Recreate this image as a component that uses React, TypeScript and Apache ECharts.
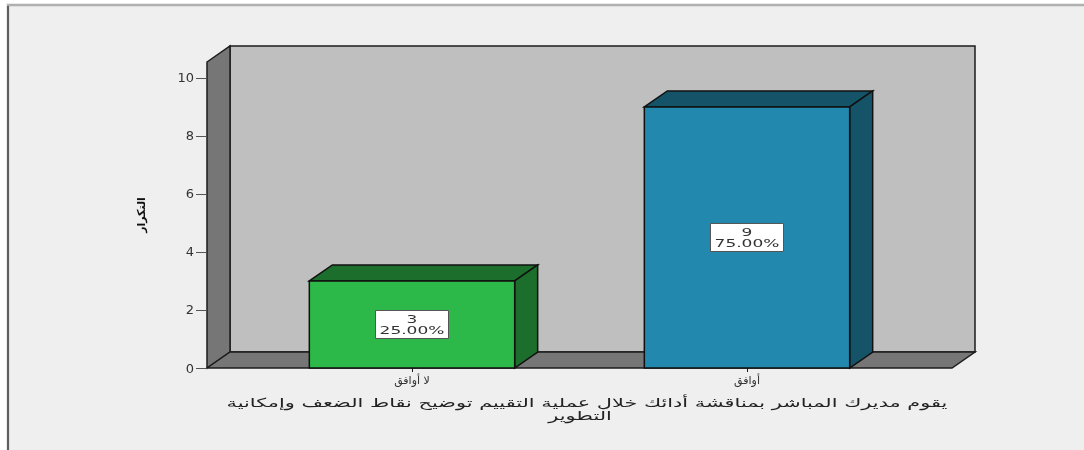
import React, { useEffect, useRef } from "react";
import * as echarts from "echarts";

const categories = ["لا أوافق", "أوافق"];
const counts = [3, 9];
const percents = ["25.00%", "75.00%"];
const frontColors = ["#2db84a", "#2288ad"];
const sideColors = ["#1c6e2c", "#155468"];
const yTicks = [0, 2, 4, 6, 8, 10];
const yAxisTitle = "التكرار";
const xAxisTitleLine1 = "يقوم مديرك المباشر بمناقشة أدائك خلال عملية التقييم توضيح نقاط الضعف وإمكانية";
const xAxisTitleLine2 = "التطوير";

const FONT = "'DejaVu Sans', sans-serif";
const INK = "#1c1c1c";
const DX = 23;
const DY = 16;
const L = 207;
const R = 952;
const TOP = 62;
const BOT = 368;
const Y_MAX = 10.55;

const line = { stroke: INK, lineWidth: 1.5 };
const titleStyle = { fill: "#222222", font: `12.5px ${FONT}`, align: "center", verticalAlign: "middle" };

export default function App() {
  const ref = useRef<HTMLDivElement>(null);
  useEffect(() => {
    const chart = echarts.init(ref.current!, null, { renderer: "svg" });
    chart.setOption({
      animation: false,
      backgroundColor: "#ffffff",
      graphic: [
        { type: "rect", z: -10, shape: { x: 8, y: 5, width: 1090, height: 460 }, style: { fill: "#efefef", stroke: "#b0b0b0", lineWidth: 2.5 } },
        { type: "line", z: -9, shape: { x1: 8, y1: 6, x2: 8, y2: 450 }, style: { stroke: "#444444", lineWidth: 1.5 } },
        { type: "polygon", z: -8, shape: { points: [[L + DX, TOP - DY], [R + DX, TOP - DY], [R + DX, BOT - DY], [L + DX, BOT - DY]] }, style: { fill: "#bfbfbf", ...line } },
        { type: "polygon", z: -7, shape: { points: [[L, TOP], [L + DX, TOP - DY], [L + DX, BOT - DY], [L, BOT]] }, style: { fill: "#767676", ...line } },
        { type: "polygon", z: -7, shape: { points: [[L, BOT], [L + DX, BOT - DY], [R + DX, BOT - DY], [R, BOT]] }, style: { fill: "#767676", ...line } },
        { type: "text", x: 587, y: 403, scaleX: 1.67, style: { text: xAxisTitleLine1, ...titleStyle } },
        { type: "text", x: 580, y: 416, scaleX: 1.67, style: { text: xAxisTitleLine2, ...titleStyle } },
      ],
      grid: { left: 244.5, right: 169.5, top: TOP, bottom: 450 - BOT },
      xAxis: {
        type: "category",
        data: categories,
        axisLine: { show: false },
        axisTick: { show: true, alignWithLabel: true, length: 4, lineStyle: { color: INK } },
        axisLabel: { color: "#333333", fontSize: 11, fontFamily: FONT, margin: 7, lineHeight: 11 },
      },
      yAxis: {
        type: "value",
        min: 0,
        max: Y_MAX,
        offset: 37.5,
        axisLine: { show: false },
        splitLine: { show: false },
        axisTick: { show: true, length: 11, lineStyle: { color: "#555555", width: 1 }, customValues: yTicks },
        axisLabel: { color: "#333333", fontSize: 13, fontFamily: FONT, margin: 13, customValues: yTicks },
        name: yAxisTitle,
        nameLocation: "middle",
        nameGap: 60,
        nameRotate: 90,
        nameTextStyle: { color: "#111111", fontSize: 11, fontWeight: "bold", fontFamily: FONT },
      },
      series: [
        {
          type: "custom",
          coordinateSystem: "cartesian2d",
          clip: false,
          data: counts.map((c, i) => [i, c]),
          encode: { x: 0, y: 1 },
          renderItem: (params: any, api: any) => {
            const i = api.value(0);
            const v = api.value(1);
            const [cx, yTop] = api.coord([i, v]);
            const [, y0] = api.coord([i, 0]);
            const [, yMid] = api.coord([i, v / 2]);
            const w = api.size([1, 0])[0] * 0.613;
            const x1 = cx - w / 2;
            const x2 = cx + w / 2;
            const edge = { stroke: "#111111", lineWidth: 1.5 };
            return {
              type: "group",
              children: [
                { type: "polygon", shape: { points: [[x1, yTop], [x1 + DX, yTop - DY], [x2 + DX, yTop - DY], [x2, yTop]] }, style: { fill: sideColors[i], ...edge } },
                { type: "polygon", shape: { points: [[x2, yTop], [x2 + DX, yTop - DY], [x2 + DX, y0 - DY], [x2, y0]] }, style: { fill: sideColors[i], ...edge } },
                { type: "rect", shape: { x: x1, y: yTop, width: w, height: y0 - yTop }, style: { fill: frontColors[i], ...edge } },
                { type: "rect", shape: { x: cx - 36.5, y: yMid - 14, width: 73, height: 28 }, style: { fill: "#ffffff", stroke: "#555555", lineWidth: 1 } },
                { type: "text", x: cx, y: yMid, scaleX: 1.55, style: { text: `${counts[i]}\n${percents[i]}`, fill: "#333333", font: `11px ${FONT}`, align: "center", verticalAlign: "middle", lineHeight: 11 } },
              ],
            };
          },
        },
      ],
    });
    return () => chart.dispose();
  }, []);
  return (
    <div style={{ position: "fixed", left: 0, top: 0, width: 1084, height: 450, overflow: "hidden" }}>
      <div ref={ref} style={{ width: 1084, height: 450, filter: "blur(0.5px)" }} />
    </div>
  );
}
